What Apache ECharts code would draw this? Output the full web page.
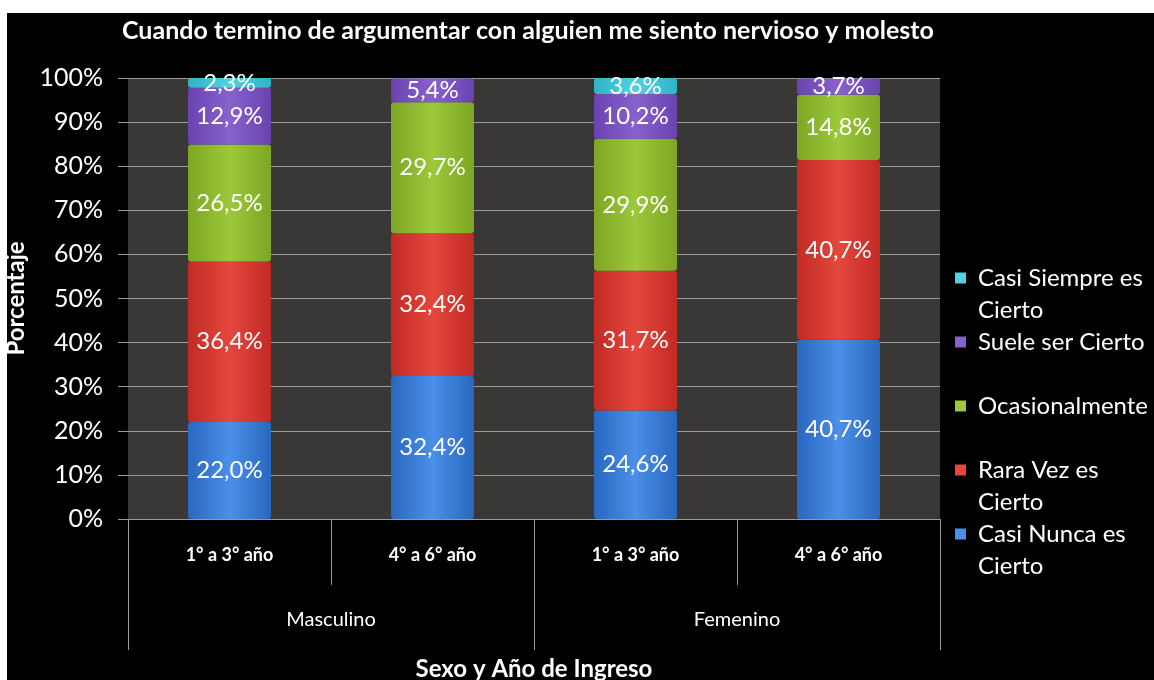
<!DOCTYPE html>
<html>
<head>
<meta charset="utf-8">
<script src="https://cdn.jsdelivr.net/npm/echarts@6/dist/echarts.min.js"></script>
<style>
  html, body { margin: 0; padding: 0; background: #fff; }
  #chart { position: absolute; left: 7px; top: 13px; width: 1147px; height: 667px; background: #000; }
</style>
</head>
<body>
<div id="chart"></div>
<script>
// datos
var grupos = ['1° a 3° año', '4° a 6° año', '1° a 3° año', '4° a 6° año'];
var sexos = ['Masculino', 'Femenino'];
var yTicks = [0, 10, 20, 30, 40, 50, 60, 70, 80, 90, 100];

var casiNunca = [22.0, 32.4, 24.6, 40.7];
var raraVez = [36.4, 32.4, 31.7, 40.7];
var ocasional = [26.5, 29.7, 29.9, 14.8];
var sueleSer = [12.9, 5.4, 10.2, 3.7];
var casiSiempre = [2.3, 0, 3.6, 0];

var nombres = ['Casi Nunca es Cierto', 'Rara Vez es Cierto', 'Ocasionalmente', 'Suele ser Cierto', 'Casi Siempre es Cierto'];
var colores = [
    ['#2a67bf', '#4a8fe8', '#2a67bf'],
    ['#c22a24', '#e4473d', '#c22a24'],
    ['#7ea624', '#9cc83a', '#7ea624'],
    ['#6a43b0', '#8761cc', '#6a43b0'],
    ['#2fb4c8', '#4fd2e2', '#2fb4c8']
];
var legendText = {
    'Casi Siempre es Cierto': ['Casi Siempre es', 'Cierto'],
    'Suele ser Cierto': ['Suele ser Cierto', ' '],
    'Ocasionalmente': ['Ocasionalmente', ' '],
    'Rara Vez es Cierto': ['Rara Vez es', 'Cierto'],
    'Casi Nunca es Cierto': ['Casi Nunca es', 'Cierto']
};

var fuente = 'Lato, "Open Sans", sans-serif';

function grad(c) {
    return new echarts.graphic.LinearGradient(0, 0, 1, 0, [
        { offset: 0, color: c[0] },
        { offset: 0.5, color: c[1] },
        { offset: 1, color: c[0] }
    ]);
}

function serie(nombre, datos, i) {
    return {
        name: nombre,
        type: 'bar',
        stack: 'total',
        barWidth: 83,
        data: datos,
        itemStyle: {
            color: grad(colores[i]),
            borderRadius: 3
        },
        label: {
            show: true,
            position: 'inside',
            color: '#fff',
            fontFamily: fuente,
            fontSize: 24,
            formatter: function (p) {
                if (!p.value) return '';
                return p.value.toFixed(1).replace('.', ',') + '%';
            }
        }
    };
}

var rich = {
    t: { color: '#fff', fontSize: 24, fontFamily: fuente, lineHeight: 32 },
    ind: { width: 23, height: 11 },
    ind2: { width: 12 }
};
nombres.forEach(function (n, i) {
    rich['s' + i] = { width: 11, height: 11, backgroundColor: colores[i][1] };
});

var chart = echarts.init(document.getElementById('chart'));
var option = {
    backgroundColor: '#000',
    title: {
        text: 'Cuando termino de argumentar con alguien me siento nervioso y molesto',
        left: 110,
        top: 0,
        textStyle: { color: '#fff', fontSize: 25, fontWeight: 'bold', fontFamily: fuente }
    },
    legend: {
        orient: 'vertical',
        left: 938,
        top: 244,
        itemGap: 0,
        itemWidth: 0,
        itemHeight: 0,
        data: nombres.slice().reverse(),
        formatter: function (name) {
            var i = nombres.indexOf(name);
            var l = legendText[name];
            return '{s' + i + '|}{ind2|}{t|' + l[0] + '}\n{ind|}{t|' + l[1] + '}';
        },
        textStyle: {
            color: '#fff',
            fontSize: 24,
            lineHeight: 32,
            rich: rich
        }
    },
    grid: {
        show: true,
        left: 121,
        right: 214,
        top: 65,
        bottom: 161,
        outerBoundsMode: 'none',
        containLabel: false,
        backgroundColor: '#3a3737',
        borderWidth: 0
    },
    xAxis: [{
        type: 'category',
        data: grupos,
        axisLine: { lineStyle: { color: '#9a9a9a' } },
        axisTick: { show: true, length: 66, interval: 0, lineStyle: { color: '#9a9a9a' } },
        axisLabel: { color: '#fff', fontSize: 18, fontWeight: 'bold', fontFamily: fuente, margin: 27, interval: 0 }
    }, {
        type: 'category',
        data: sexos,
        position: 'bottom',
        axisLine: { show: false },
        axisTick: { show: true, length: 131, lineStyle: { color: '#9a9a9a' } },
        axisLabel: { color: '#fff', fontSize: 20, fontFamily: fuente, margin: 91 },
        name: 'Sexo y Año de Ingreso',
        nameLocation: 'middle',
        nameGap: 138,
        nameTextStyle: { color: '#fff', fontSize: 24, fontWeight: 'bold', fontFamily: fuente }
    }],
    yAxis: {
        type: 'value',
        min: yTicks[0],
        max: yTicks[yTicks.length - 1],
        interval: 10,
        name: 'Porcentaje',
        nameLocation: 'middle',
        nameGap: 91,
        nameTextStyle: { color: '#fff', fontSize: 24, fontWeight: 'bold', fontFamily: fuente },
        axisLine: { show: false },
        axisTick: { show: true, length: 10, lineStyle: { color: '#9a9a9a' } },
        axisLabel: { color: '#fff', fontSize: 25, fontFamily: fuente, margin: 25, formatter: '{value}%' },
        splitLine: { lineStyle: { color: '#9a9a9a' } }
    },
    series: [
        serie(nombres[0], casiNunca, 0),
        serie(nombres[1], raraVez, 1),
        serie(nombres[2], ocasional, 2),
        serie(nombres[3], sueleSer, 3),
        serie(nombres[4], casiSiempre, 4)
    ]
};
chart.setOption(option);
</script>
</body>
</html>
